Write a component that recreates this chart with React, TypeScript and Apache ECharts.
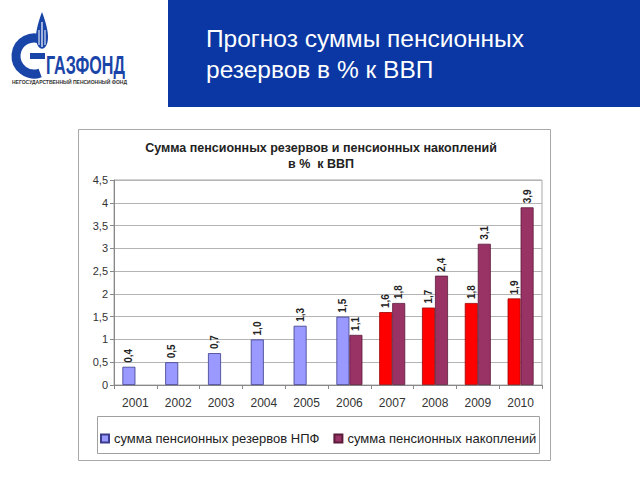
import React, { useEffect, useRef } from "react";
import * as echarts from "echarts";

const years = ["2001", "2002", "2003", "2004", "2005", "2006", "2007", "2008", "2009", "2010"];
const reservesNPF = [0.4, 0.5, 0.7, 1.0, 1.3, 1.5, 1.6, 1.7, 1.8, 1.9];
const pensionSavings = [null, null, null, null, null, 1.1, 1.8, 2.4, 3.1, 3.9];
const forecastStartIndex = 6;
const seriesNames = ["сумма пенсионных резервов НПФ", "сумма пенсионных накоплений"];
const chartTitle = "Сумма пенсионных резервов и пенсионных накоплений\nв %  к ВВП";
const headerTitle = "Прогноз суммы пенсионных\nрезервов в % к ВВП";

const FONT = "'Liberation Sans', Arial, sans-serif";

echarts.graphic.registerShape(
  "gfFlame",
  echarts.graphic.extendPath(
    "M6 0 C2 10 0 18 0 24 C0 31 3 35 6 35 C9 35 12 31 12 24 C12 18 10 10 6 0 Z",
    {}
  )
);

const fmt = (v: number) => v.toFixed(1).replace(".", ",");

export default function App() {
  const ref = useRef<HTMLDivElement>(null);
  useEffect(() => {
    if (!ref.current) return;
    const chart = echarts.init(ref.current, null, { renderer: "svg" });
    const labelCfg = {
      show: true,
      position: "top",
      rotate: 90,
      align: "left",
      verticalAlign: "middle",
      distance: 4,
      fontSize: 10,
      fontWeight: "bold",
      fontFamily: FONT,
      color: "#222",
      formatter: (p: any) => fmt(p.value),
    };
    chart.setOption({
      animation: false,
      backgroundColor: "#fff",
      textStyle: { fontFamily: FONT },
      graphic: [
        // header
        {
          type: "rect",
          z: -10,
          shape: { x: 168, y: 0, width: 472, height: 107 },
          style: { fill: "#0a37a3" },
        },
        {
          type: "text",
          x: 206,
          y: 23,
          style: {
            text: headerTitle,
            fill: "#ffffff",
            fontSize: 24.5,
            lineHeight: 31,
            fontFamily: FONT,
          },
        },
        // logo
        {
          type: "arc",
          shape: { cx: 34, cy: 56, r: 18, startAngle: (70 * Math.PI) / 180, endAngle: (300 * Math.PI) / 180, clockwise: true },
          style: { stroke: "#1a45a8", lineWidth: 9, fill: "none" },
        },
        {
          type: "rect",
          shape: { x: 30, y: 53, width: 15, height: 6 },
          style: { fill: "#1a45a8" },
        },
        {
          type: "gfFlame",
          x: 36,
          y: 12,
          scaleY: 1.05,
          style: { fill: "#1a45a8" },
        },
        {
          type: "line",
          shape: { x1: 42, y1: 22, x2: 42, y2: 47 },
          style: { stroke: "#fff", lineWidth: 1.2 },
        },
        {
          type: "line",
          shape: { x1: 39, y1: 30, x2: 39, y2: 45 },
          style: { stroke: "#fff", lineWidth: 1 },
        },
        {
          type: "line",
          shape: { x1: 45, y1: 30, x2: 45, y2: 45 },
          style: { stroke: "#fff", lineWidth: 1 },
        },
        {
          type: "text",
          x: 46,
          y: 52,
          scaleX: 0.62,
          style: {
            text: "ГАЗФОНД",
            fill: "#1a45a8",
            fontSize: 26,
            fontWeight: "bold",
            fontFamily: FONT,
          },
        },
        {
          type: "text",
          x: 12,
          y: 79,
          style: {
            text: "НЕГОСУДАРСТВЕННЫЙ ПЕНСИОННЫЙ ФОНД",
            fill: "#333",
            fontSize: 5,
            fontWeight: "bold",
            fontFamily: FONT,
          },
        },
        // chart outer box
        {
          type: "rect",
          shape: { x: 78.5, y: 129.5, width: 472, height: 331 },
          style: { fill: "none", stroke: "#a8a8a8", lineWidth: 1 },
        },
        // legend box
        {
          type: "rect",
          shape: { x: 97.5, y: 416.5, width: 442, height: 37 },
          style: { fill: "none", stroke: "#a0a0a0", lineWidth: 1 },
        },
      ],
      title: {
        text: chartTitle,
        left: 316,
        top: 135,
        textAlign: "center",
        textStyle: {
          fontSize: 12.5,
          fontWeight: "bold",
          color: "#222",
          lineHeight: 16,
          fontFamily: FONT,
        },
      },
      legend: {
        left: 95,
        top: 427,
        itemWidth: 8,
        itemHeight: 8,
        itemGap: 14,
        icon: "rect",
        textStyle: { fontSize: 13, color: "#222", fontFamily: FONT },
        data: seriesNames,
      },
      grid: {
        left: 114,
        right: 98,
        top: 180,
        bottom: 95,
        show: true,
        borderColor: "#a8a8a8",
        borderWidth: 1,
      },
      xAxis: {
        type: "category",
        data: years,
        axisLine: { lineStyle: { color: "#888" } },
        axisTick: { show: true, length: 4, lineStyle: { color: "#888" } },
        axisLabel: { fontSize: 12, color: "#333", margin: 12, fontFamily: FONT },
      },
      yAxis: {
        type: "value",
        min: 0,
        max: 4.5,
        interval: 0.5,
        axisLine: { show: true, lineStyle: { color: "#888" } },
        axisTick: { show: true, length: 4, lineStyle: { color: "#888" } },
        axisLabel: {
          fontSize: 11,
          color: "#333",
          margin: 6,
          fontFamily: FONT,
          formatter: (v: number) => String(v).replace(".", ","),
        },
        splitLine: { lineStyle: { color: "#b4b4b4" } },
      },
      series: [
        {
          name: seriesNames[0],
          type: "bar",
          barWidth: 13,
          barGap: "0%",
          itemStyle: { color: "#9999ff", borderColor: "#3c3c8c", borderWidth: 0.8 },
          label: labelCfg,
          data: reservesNPF.map((v, i) =>
            i >= forecastStartIndex
              ? { value: v, itemStyle: { color: "#ff0000", borderColor: "#a00000" } }
              : v
          ),
        },
        {
          name: seriesNames[1],
          type: "bar",
          barWidth: 13,
          barGap: "0%",
          itemStyle: { color: "#993366", borderColor: "#5a1a3a", borderWidth: 0.8 },
          label: labelCfg,
          data: pensionSavings,
        },
      ],
    });
    return () => chart.dispose();
  }, []);
  return (
    <div
      ref={ref}
      style={{ position: "fixed", left: 0, top: 0, width: 640, height: 480 }}
    />
  );
}
